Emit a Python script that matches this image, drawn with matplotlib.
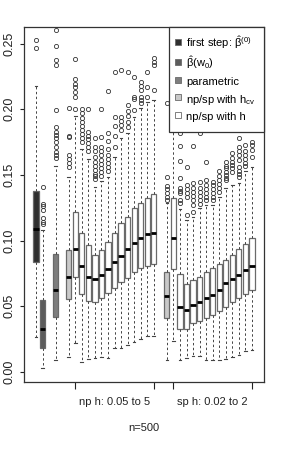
import matplotlib
matplotlib.use("Agg")
import matplotlib.pyplot as plt
from matplotlib.lines import Line2D

plt.rcParams['font.family'] = ['Liberation Sans', 'DejaVu Sans']
plt.rcParams['mathtext.fontset'] = 'custom'
plt.rcParams['mathtext.rm'] = 'Liberation Sans'
plt.rcParams['mathtext.it'] = 'Liberation Sans'
plt.rcParams['mathtext.default'] = 'rm'

# box order: first step, beta(w0), parametric, np h_cv, np h x13, sp h_cv, sp h x13
lo_vals = [0.0264, 0.0028, 0.0091, 0.0112,
           0.0223, 0.0074, 0.0097, 0.0104, 0.0117, 0.0104, 0.018, 0.018, 0.0205, 0.0231, 0.0251, 0.0274, 0.0274,
           0.0091,
           0.0236, 0.0091, 0.0104, 0.0120, 0.0124, 0.0091, 0.0091, 0.0095, 0.0102, 0.0115, 0.0127, 0.0162, 0.0167]
q1_vals = [0.0835, 0.0185, 0.0416, 0.0553,
           0.072, 0.0591, 0.0543, 0.0535, 0.0561, 0.0604, 0.0642, 0.0683, 0.0713, 0.0763, 0.0789, 0.0809, 0.0822,
           0.0413,
           0.0781, 0.0327, 0.0325, 0.037, 0.039, 0.0413, 0.0434, 0.0462, 0.0497, 0.053, 0.0565, 0.0594, 0.0624]
med_vals = [0.1086, 0.0327, 0.0624, 0.0725,
            0.0936, 0.0809, 0.0723, 0.0705, 0.0738, 0.0781, 0.084, 0.0885, 0.0936, 0.0984, 0.1017, 0.1047, 0.106,
            0.0578,
            0.1017, 0.0492, 0.0472, 0.0507, 0.0535, 0.0561, 0.0586, 0.0624, 0.0675, 0.0705, 0.0738, 0.0774, 0.0807]
q3_vals = [0.1377, 0.0548, 0.0895, 0.0928,
           0.1215, 0.1055, 0.0969, 0.0893, 0.0928, 0.0986, 0.1055, 0.1131, 0.1182, 0.125, 0.1289, 0.1322, 0.1352,
           0.0763,
           0.1322, 0.0746, 0.0667, 0.070, 0.0726, 0.0763, 0.0789, 0.082, 0.0852, 0.089, 0.0936, 0.0974, 0.1017]
hi_vals = [0.2179, 0.108, 0.157, 0.1486,
           0.195, 0.1695, 0.1618, 0.141, 0.1455, 0.1486, 0.164, 0.1778, 0.1816, 0.1943, 0.2007, 0.2057, 0.207,
           0.1285,
           0.205, 0.124, 0.1157, 0.1182, 0.1245, 0.127, 0.1271, 0.1334, 0.1397, 0.142, 0.1436, 0.1532, 0.156]
out_vals = [
    [0.2527, 0.2463],
    [0.141, 0.128, 0.126, 0.123, 0.117, 0.1145, 0.1126],
    [0.2603, 0.2483, 0.2374, 0.2336, 0.1994, 0.1867, 0.1829, 0.1804, 0.1778, 0.1753, 0.1715, 0.1677, 0.1651, 0.1626],
    [0.2007, 0.180, 0.179, 0.165, 0.162, 0.159, 0.156],
    [0.2379, 0.2229, 0.2192, 0.2167, 0.213, 0.2095, 0.2002],
    [0.2002, 0.197, 0.193, 0.19, 0.187, 0.184, 0.181, 0.178, 0.1753],
    [0.2, 0.183, 0.18, 0.177, 0.174, 0.171, 0.168],
    [0.1778, 0.1715, 0.168, 0.164, 0.16, 0.157, 0.154, 0.151, 0.149, 0.147],
    [0.2, 0.179, 0.1715, 0.168, 0.165, 0.161, 0.158, 0.155, 0.152, 0.149],
    [0.2139, 0.182, 0.176, 0.17, 0.165, 0.162, 0.159, 0.156, 0.153],
    [0.2286, 0.1943, 0.187, 0.1796, 0.1715],
    [0.2298, 0.1943, 0.191, 0.188, 0.1842],
    [0.2286, 0.203, 0.199, 0.195, 0.19, 0.1867],
    [0.2243, 0.209, 0.2075, 0.1994],
    [0.2205, 0.218, 0.2146, 0.2095, 0.207, 0.2045],
    [0.2286, 0.2172, 0.2095],
    [0.2387, 0.236, 0.2336, 0.2146],
    [0.2045, 0.1486, 0.1415, 0.139, 0.136, 0.133, 0.131],
    [0.232],
    [0.1816, 0.1722, 0.1608, 0.148, 0.14, 0.138, 0.136, 0.131, 0.1285],
    [0.1562, 0.142, 0.139, 0.136, 0.133, 0.1195],
    [0.1722, 0.1436, 0.14, 0.137, 0.134, 0.131, 0.127, 0.122],
    [0.182, 0.1448, 0.14, 0.137, 0.134, 0.131, 0.128],
    [0.16, 0.146, 0.142, 0.139, 0.136, 0.133, 0.131],
    [0.1448, 0.142, 0.139, 0.136, 0.133, 0.131],
    [0.1532, 0.149, 0.146, 0.143, 0.14, 0.137],
    [0.16, 0.157, 0.155, 0.152, 0.15, 0.148, 0.146],
    [0.1665, 0.163, 0.16, 0.1575, 0.155, 0.1524],
    [0.1778, 0.171, 0.168, 0.165, 0.161, 0.156, 0.153, 0.151, 0.1486],
    [0.1728, 0.168, 0.165, 0.162, 0.159, 0.157],
    [0.175, 0.1725, 0.169, 0.164],
]

legend_labels = [r'first step: $\hat{\beta}^{(0)}$', r'$\hat{\beta}(\mathrm{w}_0)$', 'parametric',
                 r'np/sp with $\mathrm{h}_{\mathrm{cv}}$', 'np/sp with h']
group_labels = ['np h: 0.05 to 5', 'sp h: 0.02 to 2']
n_h = 13

# styles
fills = ['#2f2f2f', '#5c5c5c', '#7e7e7e', '#c9c9c9', 'white']
box_kind = [0, 1, 2, 3] + [4] * n_h + [3] + [4] * n_h
positions = [1, 2, 4, 6] + list(range(7, 7 + n_h)) + [21] + list(range(22, 22 + n_h))

stats = []
for i in range(len(med_vals)):
    stats.append(dict(med=med_vals[i], q1=q1_vals[i], q3=q3_vals[i],
                      whislo=lo_vals[i], whishi=hi_vals[i], fliers=out_vals[i]))

fig = plt.figure(figsize=(2.84, 4.63), dpi=100)
ax = fig.add_axes([24 / 284, 81.5 / 463, 240 / 284, 354.8 / 463])

edge = '#6a6a6a'
bp = ax.bxp(stats, positions=positions, widths=0.8, patch_artist=True,
            capwidths=0.4,
            boxprops=dict(edgecolor=edge, linewidth=0.9),
            medianprops=dict(color='black', linewidth=2.0, solid_capstyle='butt'),
            whiskerprops=dict(color='#444444', linewidth=0.7, linestyle=(0, (2.5, 2.5))),
            capprops=dict(color='#444444', linewidth=0.8),
            flierprops=dict(marker='o', markersize=3.0, markerfacecolor='none',
                            markeredgecolor='#333333', markeredgewidth=0.6))
for patch, k in zip(bp['boxes'], box_kind):
    patch.set_facecolor(fills[k])

ax.set_xlim(-0.833, 35.84)
ax.set_ylim(-0.0072, 0.2628)

yt = [0.0, 0.05, 0.10, 0.15, 0.20, 0.25]
ax.set_yticks(yt)
ax.set_yticklabels(['%.2f' % v for v in yt], rotation=90, va='center', fontsize=9)
ax.tick_params(axis='y', length=2.9, width=0.8, pad=3.5, colors='#222222')
ax.set_xticks([7, 19, 22, 34])
ax.set_xticklabels([])
ax.tick_params(axis='x', length=4.8, width=0.8, colors='#222222')
for s in ax.spines.values():
    s.set_color('#333333')
    s.set_linewidth(0.9)

ax.text(13, -0.057, group_labels[0], transform=ax.get_xaxis_transform(),
        ha='center', va='center', fontsize=8, color='#222222')
ax.text(28, -0.057, group_labels[1], transform=ax.get_xaxis_transform(),
        ha='center', va='center', fontsize=8, color='#222222')
ax.text(0.5, -0.131, 'n=500', transform=ax.transAxes,
        ha='center', va='center', fontsize=8, color='#222222')

handles = [Line2D([], [], linestyle='none', marker='s', markersize=4.2,
                  markerfacecolor=c, markeredgecolor=edge, markeredgewidth=0.6)
           for c in fills]
leg = ax.legend(handles, legend_labels, loc='upper right', fontsize=8,
                bbox_to_anchor=(0.603, 0.0, 0.397, 1.0), mode='expand',
                borderaxespad=0, borderpad=0.7, handlelength=0.35,
                handleheight=1.65, labelspacing=0.26, handletextpad=0.55,
                fancybox=False, framealpha=1)
leg.get_frame().set_edgecolor('#333333')
leg.get_frame().set_linewidth(0.9)

fig.savefig('out.png', dpi=100)
